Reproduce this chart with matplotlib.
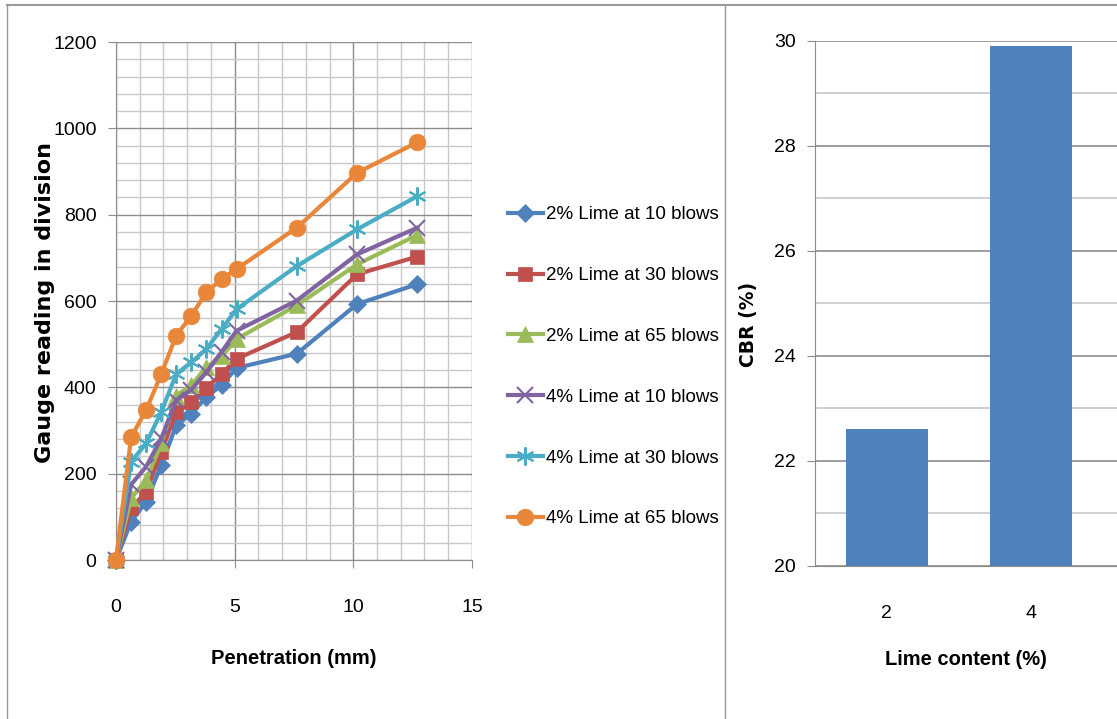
"""
CBR test results: gauge reading vs penetration, and CBR vs lime content.
"""

import matplotlib

matplotlib.use("Agg")
import matplotlib.pyplot as plt
from matplotlib.lines import Line2D
from matplotlib.ticker import MultipleLocator

# ---- data ----
penetration = [0, 0.64, 1.27, 1.91, 2.54, 3.18, 3.81, 4.45, 5.08, 7.62, 10.16, 12.7]

lime2Blows10 = [0, 89, 135, 220, 312, 339, 378, 405, 445, 478, 593, 639]
lime2Blows30 = [0, 120, 158, 250, 343, 366, 398, 431, 466, 528, 662, 703]
lime2Blows65 = [0, 143, 185, 270, 381, 405, 447, 472, 512, 590, 685, 753]
lime4Blows10 = [0, 175, 216, 282, 370, 395, 435, 482, 531, 601, 708, 770]
lime4Blows30 = [0, 228, 270, 343, 431, 458, 489, 535, 581, 681, 766, 843]
lime4Blows65 = [0, 285, 347, 431, 520, 566, 620, 651, 674, 770, 897, 968]

seriesLabels = [
    "2% Lime at 10 blows",
    "2% Lime at 30 blows",
    "2% Lime at 65 blows",
    "4% Lime at 10 blows",
    "4% Lime at 30 blows",
    "4% Lime at 65 blows",
]

limeContent = ["2", "4"]
cbrValues = [22.6, 29.9]

# ---- styles ----
textFont = ["Liberation Sans", "DejaVu Sans"]
colors = ["#4F81BD", "#C0504D", "#9BBB59", "#8064A2", "#4BACC6", "#E8873A"]
markers = ["D", "s", "^", "x", (6, 2, 0), "o"]
markerSizes = [9, 10, 11, 11, 13, 12]

plt.rcParams["font.family"] = textFont

fig = plt.figure(figsize=(11.17, 7.19), dpi=100)

# 外框线
fig.add_artist(Line2D([0.006, 1.0], [0.993, 0.993], color="#9a9a9a", lw=1.5))
fig.add_artist(Line2D([0.0065, 0.0065], [0.0, 0.993], color="#9a9a9a", lw=1.0))
fig.add_artist(Line2D([0.649, 0.649], [0.0, 0.993], color="#9a9a9a", lw=1.0))

# ---- left: gauge reading ----
ax = fig.add_axes([0.1038, 0.2211, 0.3187, 0.7204])
allSeries = [lime2Blows10, lime2Blows30, lime2Blows65,
             lime4Blows10, lime4Blows30, lime4Blows65]
for vals, label, c, m, ms in zip(allSeries, seriesLabels, colors, markers, markerSizes):
    ax.plot(penetration, vals, color=c, lw=3.0, marker=m, markersize=ms,
            markeredgewidth=1.5 if m in ("x", (6, 2, 0)) else 0.5,
            markeredgecolor=c, label=label, clip_on=False, zorder=3)

ax.set_xlim(0, 15)
ax.set_ylim(0, 1200)
ax.xaxis.set_major_locator(MultipleLocator(5))
ax.xaxis.set_minor_locator(MultipleLocator(1))
ax.yaxis.set_major_locator(MultipleLocator(200))
ax.yaxis.set_minor_locator(MultipleLocator(40))
ax.grid(which="major", color="#8c8c8c", lw=1.0)
ax.grid(which="minor", color="#c8c8c8", lw=1.0)
ax.set_axisbelow(True)
for side in ("top", "right"):
    ax.spines[side].set_visible(False)
for side in ("left", "bottom"):
    ax.spines[side].set_color("#8c8c8c")
ax.tick_params(which="major", length=6, color="#8c8c8c", labelsize=14, pad=8)
ax.tick_params(which="minor", length=0)
ax.tick_params(axis="x", pad=22)

ax.set_xlabel("Penetration (mm)", fontsize=14.5, fontweight="bold")
ax.xaxis.set_label_coords(0.5, -0.171)
ax.set_ylabel("Gauge reading in division", fontsize=16, fontweight="bold",
              family="DejaVu Sans")
ax.yaxis.set_label_coords(-0.17, 0.498)

ax.legend(loc="upper left", bbox_to_anchor=(1.10, 0.683), frameon=False,
          fontsize=13.5, handlelength=1.9, handletextpad=0.15, labelspacing=2.33,
          borderaxespad=0, borderpad=0)

# ---- right: CBR bars ----
ax2 = fig.add_axes([0.7296, 0.2128, 0.2704, 0.7302])
barPos = range(len(limeContent))
ax2.bar(barPos, cbrValues, width=0.57, color="#4F81BD", zorder=3)
ax2.set_xlim(-0.5, 1.6)
ax2.set_ylim(20, 30)
ax2.set_xticks(list(barPos))
ax2.set_xticklabels(limeContent)
ax2.yaxis.set_major_locator(MultipleLocator(2))
ax2.yaxis.set_minor_locator(MultipleLocator(1))
ax2.grid(axis="y", which="major", color="#8c8c8c", lw=1.2)
ax2.grid(axis="y", which="minor", color="#c8c8c8", lw=1.2)
ax2.set_axisbelow(True)
for side in ("top", "right"):
    ax2.spines[side].set_visible(False)
for side in ("left", "bottom"):
    ax2.spines[side].set_color("#8c8c8c")
ax2.tick_params(axis="y", which="major", length=6, color="#8c8c8c", labelsize=14, pad=8)
ax2.tick_params(axis="y", which="minor", length=0)
ax2.tick_params(axis="x", length=0, labelsize=14, pad=28)

ax2.set_xlabel("Lime content (%)", fontsize=14.5, fontweight="bold")
ax2.xaxis.set_label_coords(0.5, -0.16)
ax2.set_ylabel("CBR (%)", fontsize=13.5, fontweight="bold", family="DejaVu Sans")
ax2.yaxis.set_label_coords(-0.19, 0.461)

fig.savefig("out.png", dpi=100)
plt.close(fig)
